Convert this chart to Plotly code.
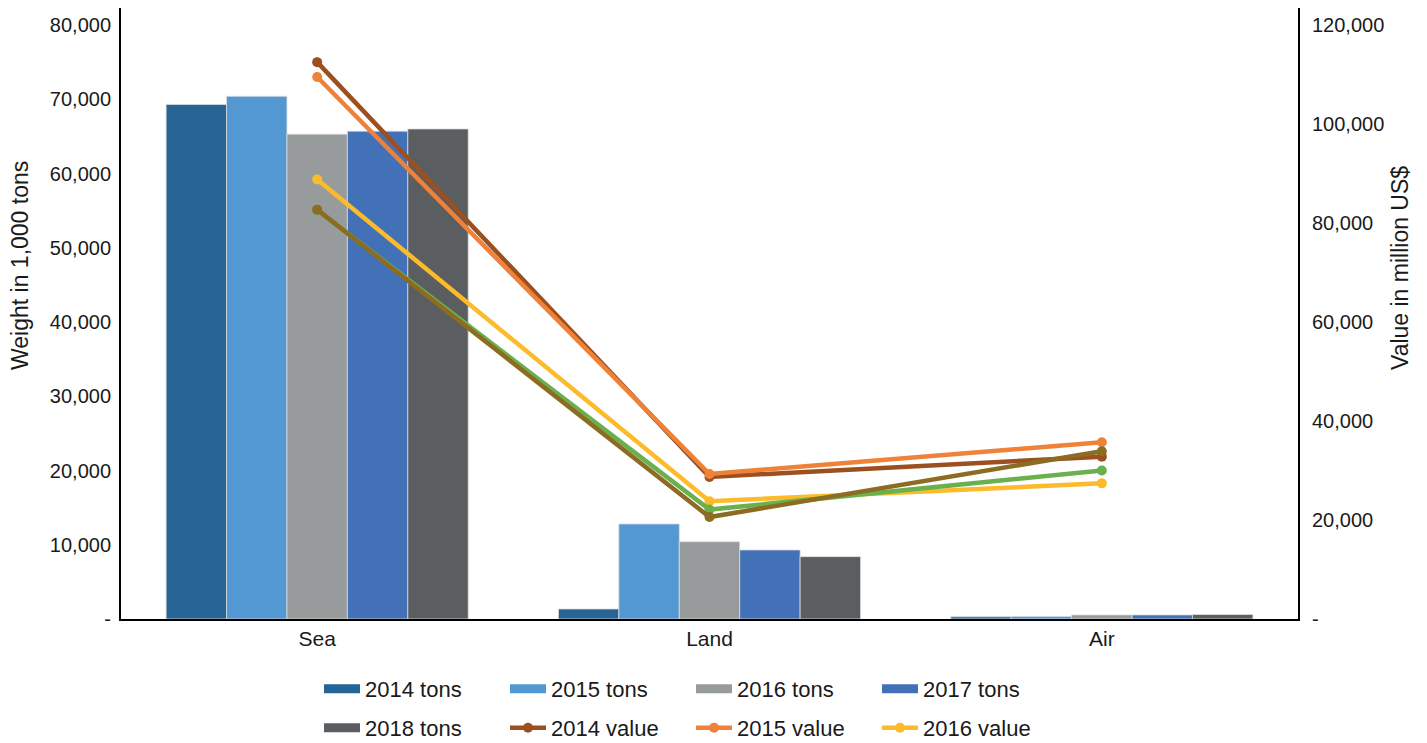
import plotly.graph_objects as go

categories = ["Sea", "Land", "Air"]

tons_2014 = [69300, 1350, 300]
tons_2015 = [70400, 12800, 350]
tons_2016 = [65300, 10400, 550]
tons_2017 = [65700, 9300, 550]
tons_2018 = [66000, 8400, 600]

value_2014 = [112500, 28700, 32800]
value_2015 = [109500, 29300, 35700]
value_2016 = [88800, 23800, 27400]
value_2017 = [82600, 22100, 30000]
value_2018 = [82700, 20600, 33900]

left_ticks = [0, 10000, 20000, 30000, 40000, 50000, 60000, 70000, 80000]
left_ticktext = ["-", "10,000", "20,000", "30,000", "40,000", "50,000", "60,000", "70,000", "80,000"]
right_ticks = [0, 20000, 40000, 60000, 80000, 100000, 120000]
right_ticktext = ["-", "20,000", "40,000", "60,000", "80,000", "100,000", "120,000"]

FONT = "Liberation Sans, Arial, Helvetica, sans-serif"

# page has an 8px body margin; figure is sized to fit the window
OFF = 8
W, H = 1427 - OFF, 743 - OFF
PL, PR, PT, PB = 121, 1298, 8, 619  # plot box in page pixels
ml, mr, mt, mb = PL - OFF, W + OFF - PR, PT - OFF, H + OFF - PB
pw, ph = PR - PL, PB - PT

fig = go.Figure()

bar_series = [
    ("2014 tons", tons_2014, "#276496", "legend"),
    ("2015 tons", tons_2015, "#5398d3", "legend"),
    ("2016 tons", tons_2016, "#989b9c", "legend"),
    ("2017 tons", tons_2017, "#4371b8", "legend"),
    ("2018 tons", tons_2018, "#5a5e60", "legend2"),
]
for name, vals, col, lg in bar_series:
    fig.add_trace(go.Bar(
        x=categories, y=vals, name=name, marker_color=col,
        marker_line=dict(color="rgba(220,220,220,0.8)", width=1),
        showlegend=False, legendgroup=name,
    ))
# legend entries drawn as wide rectangles (legend-only proxies)
for name, vals, col, lg in bar_series:
    fig.add_trace(go.Scatter(
        x=[None], y=[None], name=name, mode="lines",
        line=dict(color=col, width=9), legend=lg, legendgroup=name,
    ))

line_series = [
    ("2014 value", value_2014, "#9c5020", True),
    ("2015 value", value_2015, "#ef8238", True),
    ("2016 value", value_2016, "#fcbb2b", True),
    ("2017 value", value_2017, "#6ab04c", False),
    ("2018 value", value_2018, "#8b6c22", False),
]
for name, vals, col, show in line_series:
    fig.add_trace(go.Scatter(
        x=categories, y=vals, name=name, yaxis="y2", mode="lines+markers",
        line=dict(color=col, width=4.5), marker=dict(color=col, size=10),
        showlegend=show, legend="legend2",
    ))

def cx(p):
    return (p - OFF) / W

def cy(p):
    return 1 - (p - OFF) / H

legend_common = dict(
    orientation="h", xref="container", yref="container",
    xanchor="left", yanchor="middle",
    entrywidth=135, entrywidthmode="pixels", itemwidth=36,
    font=dict(size=22), bgcolor="rgba(0,0,0,0)", traceorder="normal",
)

fig.update_layout(
    width=W, height=H,
    margin=dict(l=ml, r=mr, t=mt, b=mb, autoexpand=False),
    paper_bgcolor="white", plot_bgcolor="white",
    font=dict(family=FONT, size=20, color="#1a1a1a"),
    barmode="group", bargap=0.23, bargroupgap=0,
    xaxis=dict(
        showline=True, linecolor="black", linewidth=2, showgrid=False,
        ticks="", tickfont=dict(size=21), range=[-0.5, 2.5],
    ),
    yaxis=dict(
        range=[0, 80000 * ph / 594], tickvals=left_ticks, ticktext=left_ticktext,
        showline=True, linecolor="black", linewidth=2, showgrid=False, zeroline=False,
        ticks="", tickfont=dict(size=20), ticklabelstandoff=4,
    ),
    yaxis2=dict(
        range=[0, 120000 * ph / 594], tickvals=right_ticks, ticktext=right_ticktext,
        overlaying="y", side="right", anchor="x",
        showline=True, linecolor="black", linewidth=2, showgrid=False, zeroline=False,
        ticks="", tickfont=dict(size=20), ticklabelstandoff=8,
    ),
    legend=dict(legend_common, x=cx(319), y=cy(689)),
    legend2=dict(legend_common, x=cx(319), y=cy(728)),
    annotations=[
        dict(text="Weight in 1,000 tons", textangle=-90,
             xref="x domain", yref="y domain",
             x=(20 - PL) / pw, y=(PB - 266) / ph, xanchor="center", yanchor="middle",
             showarrow=False, font=dict(size=23)),
        dict(text="Value in million US$", textangle=-90,
             xref="x domain", yref="y domain",
             x=(1400 - PL) / pw, y=(PB - 268) / ph, xanchor="center", yanchor="middle",
             showarrow=False, font=dict(size=23)),
    ],
)

fig.write_html("out.html")
